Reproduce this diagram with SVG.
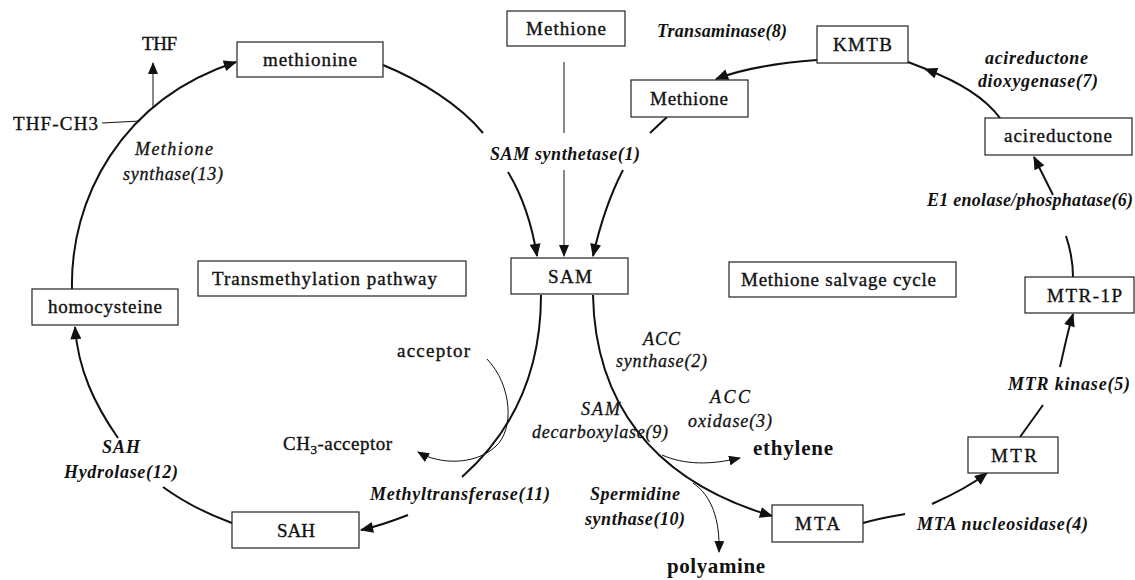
<svg xmlns="http://www.w3.org/2000/svg" width="1135" height="580" viewBox="0 0 1135 580">
<style>
.box{fill:#fff;stroke:#222;stroke-width:1.2}
.t{font-family:"Liberation Serif","Times New Roman",serif;font-size:19px;fill:#111;stroke:#111;stroke-width:0.35}
.e{font-family:"Liberation Serif","Times New Roman",serif;font-size:18px;font-style:italic;font-weight:bold;fill:#111}
.er{font-family:"Liberation Serif","Times New Roman",serif;font-size:18px;font-style:italic;fill:#111;stroke:#111;stroke-width:0.3}
.b{font-family:"Liberation Serif","Times New Roman",serif;font-size:21px;font-weight:bold;fill:#111}
.c{fill:none;stroke:#111;stroke-width:2}
.c1{fill:none;stroke:#111;stroke-width:1}
</style>
<defs>
<marker id="ah" viewBox="0 0 12 10" refX="11" refY="5" markerWidth="14" markerHeight="11" markerUnits="userSpaceOnUse" orient="auto"><path d="M0,0 L12,5 L0,10 z" fill="#111"/></marker>
<marker id="ahs" viewBox="0 0 12 10" refX="11" refY="5" markerWidth="12" markerHeight="10" markerUnits="userSpaceOnUse" orient="auto"><path d="M0,0 L12,5 L0,10 z" fill="#111"/></marker>
</defs>
<rect width="1135" height="580" fill="#fff"/>

<g id="connectors">
<path class="c" d="M72,289 C70,200 120,100 236,62" marker-end="url(#ah)"/>
<path class="c1" d="M102,123 L140,121"/>
<path class="c1" d="M153,107 L153,63" marker-end="url(#ahs)"/>
<path class="c" d="M383,65 C420,80 460,105 483,133"/>
<path class="c" d="M508,172 C522,195 532,225 537,256" marker-end="url(#ah)"/>
<path class="c1" d="M564,62 L564,133"/>
<path class="c1" d="M564,170 L564,256" marker-end="url(#ahs)"/>
<path class="c" d="M667,117 L650,133"/>
<path class="c" d="M623,170 C610,195 600,225 593,256" marker-end="url(#ah)"/>
<path class="c" d="M817,60 C790,62 750,66 716,79" marker-end="url(#ah)"/>
<path class="c" d="M1000,118 C985,98 960,82 925,69" marker-end="url(#ah)"/>
<path class="c" d="M926,69 L908,62"/>
<path class="c" d="M1073,277 C1073,262 1070,248 1066,236"/>
<path class="c" d="M1053,195 L1034,157" marker-end="url(#ah)"/>
<path class="c" d="M1020,437 L1043,405"/>
<path class="c" d="M1060,367 C1064,350 1068,330 1073,314" marker-end="url(#ah)"/>
<path class="c" d="M863,523 C880,518 893,516 905,514"/>
<path class="c" d="M932,504 C950,496 970,486 987,473" marker-end="url(#ah)"/>
<path class="c" d="M593,295 C595,400 650,480 772,516" marker-end="url(#ah)"/>
<path class="c1" d="M662,455 C685,465 710,465 740,458" marker-end="url(#ahs)"/>
<path class="c1" d="M693,483 C712,496 720,520 719,552" marker-end="url(#ahs)"/>
<path class="c" d="M541,295 C541,370 515,430 462,477"/>
<path class="c" d="M408,515 C390,522 375,527 361,530" marker-end="url(#ah)"/>
<path class="c1" d="M487,359 C512,385 515,430 495,447 C475,465 440,465 418,452" marker-end="url(#ahs)"/>
<path class="c" d="M232,523 C210,515 185,503 163,487"/>
<path class="c" d="M118,438 C95,405 78,370 75,327" marker-end="url(#ah)"/>
</g>

<g id="methionine"><rect class="box" x="237" y="42" width="146" height="35"/><text class="t" x="263" y="66" textLength="94" lengthAdjust="spacing">methionine</text></g>
<g id="methione-top"><rect class="box" x="507" y="11" width="118" height="35"/><text class="t" x="526" y="35" textLength="80" lengthAdjust="spacing">Methione</text></g>
<g id="methione-2"><rect class="box" x="631" y="80" width="117" height="37"/><text class="t" x="650" y="105" textLength="78" lengthAdjust="spacing">Methione</text></g>
<g id="kmtb"><rect class="box" x="817" y="26" width="91" height="37"/><text class="t" x="833" y="51" textLength="59" lengthAdjust="spacing">KMTB</text></g>
<g id="acireductone"><rect class="box" x="985" y="118" width="147" height="37"/><text class="t" x="1004" y="142" textLength="108" lengthAdjust="spacing">acireductone</text></g>
<g id="homocysteine"><rect class="box" x="32" y="289" width="146" height="36"/><text class="t" x="48" y="313" textLength="114" lengthAdjust="spacing">homocysteine</text></g>
<g id="transmethylation"><rect class="box" x="198" y="261" width="268" height="35"/><text class="t" x="212" y="285" textLength="225" lengthAdjust="spacing">Transmethylation pathway</text></g>
<g id="sam"><rect class="box" x="511" y="258" width="117" height="36"/><text class="t" x="548" y="283" textLength="44" lengthAdjust="spacing">SAM</text></g>
<g id="salvage"><rect class="box" x="729" y="262" width="227" height="35"/><text class="t" x="741" y="286" textLength="195" lengthAdjust="spacing">Methione salvage cycle</text></g>
<g id="mtr1p"><rect class="box" x="1025" y="277" width="109" height="36"/><text class="t" x="1047" y="302" textLength="75" lengthAdjust="spacing">MTR-1P</text></g>
<g id="mtr"><rect class="box" x="968" y="437" width="90" height="36"/><text class="t" x="991" y="462" textLength="46" lengthAdjust="spacing">MTR</text></g>
<g id="mta"><rect class="box" x="772" y="505" width="91" height="37"/><text class="t" x="795" y="530" textLength="45" lengthAdjust="spacing">MTA</text></g>
<g id="sah"><rect class="box" x="232" y="512" width="127" height="36"/><text class="t" x="277" y="537" textLength="38" lengthAdjust="spacing">SAH</text></g>

<g id="labels">
<text class="t" x="142" y="50" textLength="35" lengthAdjust="spacing">THF</text>
<text class="t" x="13" y="130" textLength="85" lengthAdjust="spacing">THF-CH3</text>
<text class="er" x="135" y="155" textLength="78" lengthAdjust="spacing">Methione</text>
<text class="er" x="123" y="180" textLength="100" lengthAdjust="spacing">synthase(13)</text>
<text class="e" x="490" y="160" textLength="150" lengthAdjust="spacing">SAM synthetase(1)</text>
<text class="e" x="657" y="37" textLength="130" lengthAdjust="spacing">Transaminase(8)</text>
<text class="e" x="985" y="64" textLength="103" lengthAdjust="spacing">acireductone</text>
<text class="e" x="978" y="87" textLength="120" lengthAdjust="spacing">dioxygenase(7)</text>
<text class="e" x="927" y="206" textLength="206" lengthAdjust="spacing">E1 enolase/phosphatase(6)</text>
<text class="e" x="1008" y="390" textLength="122" lengthAdjust="spacing">MTR kinase(5)</text>
<text class="e" x="917" y="530" textLength="171" lengthAdjust="spacing">MTA nucleosidase(4)</text>
<text class="er" x="643" y="345" textLength="37" lengthAdjust="spacing">ACC</text>
<text class="er" x="616" y="367" textLength="91" lengthAdjust="spacing">synthase(2)</text>
<text class="er" x="710" y="403" textLength="40" lengthAdjust="spacing">ACC</text>
<text class="er" x="688" y="427" textLength="84" lengthAdjust="spacing">oxidase(3)</text>
<text class="er" x="581" y="415" textLength="39" lengthAdjust="spacing">SAM</text>
<text class="er" x="532" y="438" textLength="136" lengthAdjust="spacing">decarboxylase(9)</text>
<text class="e" x="590" y="500" textLength="90" lengthAdjust="spacing">Spermidine</text>
<text class="e" x="585" y="525" textLength="100" lengthAdjust="spacing">synthase(10)</text>
<text class="e" x="370" y="500" textLength="180" lengthAdjust="spacing">Methyltransferase(11)</text>
<text class="e" x="102" y="453" textLength="38" lengthAdjust="spacing">SAH</text>
<text class="e" x="64" y="478" textLength="114" lengthAdjust="spacing">Hydrolase(12)</text>
<text class="t" x="397" y="357" textLength="73" lengthAdjust="spacing">acceptor</text>
<text class="t" x="283" y="450" letter-spacing="0.5">CH<tspan font-size="13" dy="4">3</tspan><tspan dy="-4">-acceptor</tspan></text>
<text class="b" x="753" y="455" textLength="80" lengthAdjust="spacing">ethylene</text>
<text class="b" x="667" y="573" textLength="98" lengthAdjust="spacing">polyamine</text>
</g>
</svg>
